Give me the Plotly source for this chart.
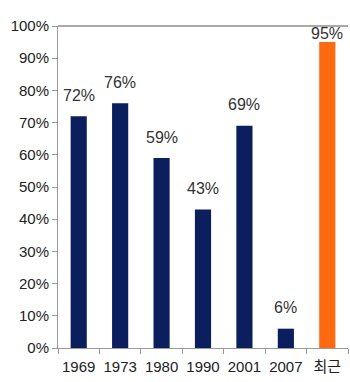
import plotly.graph_objects as go

# Share by year (last bar = most recent)
categories = ["1969", "1973", "1980", "1990", "2001", "2007", "최근"]
values = [0.72, 0.76, 0.59, 0.43, 0.69, 0.06, 0.95]
bar_colors = ["#0b1f5e"] * 6 + ["#ff6a10"]
label_text = [f"{round(v * 100)}%" for v in values]

W, H = 350, 382
M_L, M_R, M_T, M_B = 58, 2, 26, 34
plot_h = H - M_T - M_B

fig = go.Figure()
fig.add_trace(go.Bar(
    x=categories,
    y=values,
    marker=dict(color=bar_colors, line=dict(width=0)),
    width=0.39,
    hoverinfo="skip",
))

# Value labels above each bar (x given as category index), kept inside the plot top
for i, (v, txt) in enumerate(zip(values, label_text)):
    room = (1.0 - v) * plot_h - 8
    fig.add_annotation(
        x=i, y=v, text=txt, showarrow=False,
        yanchor="middle", yshift=min(21, room),
        font=dict(family="Liberation Sans, Arial, sans-serif", size=16, color="#333333"),
    )

# Top border of the plot area
fig.add_shape(type="line", xref="paper", yref="paper", x0=0, x1=1, y0=1, y1=1,
              line=dict(color="#555555", width=1))

fig.update_layout(
    width=W, height=H,
    margin=dict(l=M_L, r=M_R, t=M_T, b=M_B),
    paper_bgcolor="white", plot_bgcolor="white",
    showlegend=False,
    font=dict(family="Liberation Sans, Arial, sans-serif", size=15, color="#222222"),
)
fig.update_xaxes(
    type="category",
    range=[-0.5, len(categories) - 0.5],
    showline=True, linecolor="#999999", linewidth=1,
    ticks="outside", ticklen=5, tickcolor="#999999",
    tickson="boundaries",
    ticklabelstandoff=5,
    showgrid=False,
    tickangle=0,
    tickfont=dict(family="Liberation Sans, 'Noto Sans CJK KR', sans-serif", size=15, color="#222222"),
)
fig.update_yaxes(
    range=[0, 1], dtick=0.1, tickformat=".0%",
    showline=True, linecolor="#999999", linewidth=1,
    ticks="outside", ticklen=5, tickcolor="#999999",
    showgrid=False, zeroline=False,
    tickfont=dict(family="Liberation Sans, Arial, sans-serif", size=15, color="#222222"),
)

fig.write_html("out.html")
